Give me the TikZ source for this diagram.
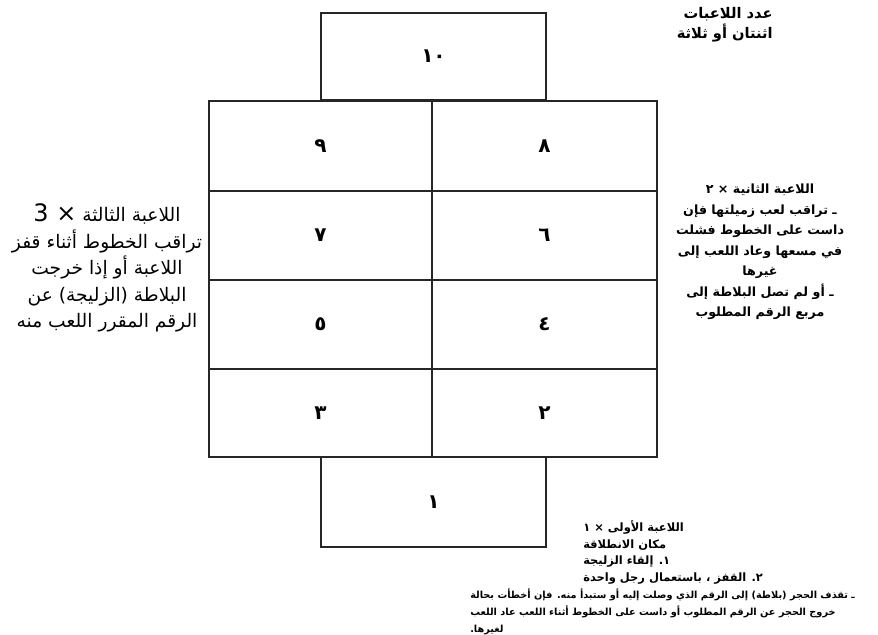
\documentclass[tikz,border=0pt]{standalone}
\usepackage{fontspec}
\TeXXeTstate=1
\newfontfamily\arab[Script=Arabic]{DejaVu Sans}
\newcommand{\RL}[1]{\beginR #1\endR}
\begin{document}
\begin{tikzpicture}[x=0.75pt,y=-0.75pt,
  cell/.style={draw=black!85, line width=1.1pt, inner sep=0pt,
    font=\arab\bfseries\fontsize{15}{17}\selectfont},
  midw/.style={minimum width=168.75pt},
  lw/.style={minimum width=167.25pt},
  txt/.style={inner sep=0pt, text=black}]
\useasboundingbox (0,0) rectangle (878,635);
% top box
\node[cell, midw, minimum height=65.25pt] (c10) at (433.5,56.5) {\RL{١٠}};
% left column
\node[cell, lw, minimum height=67.5pt] (c9) at (320.5,146) {٩};
\node[cell, lw, minimum height=66.75pt] (c7) at (320.5,235.5) {٧};
\node[cell, lw, minimum height=66.75pt] (c5) at (320.5,324.5) {٥};
\node[cell, lw, minimum height=66pt] (c3) at (320.5,413) {٣};
% right column
\node[cell, midw, minimum height=67.5pt] (c8) at (544.5,146) {٨};
\node[cell, midw, minimum height=66.75pt] (c6) at (544.5,235.5) {٦};
\node[cell, midw, minimum height=66.75pt] (c4) at (544.5,324.5) {٤};
\node[cell, midw, minimum height=66pt] (c2) at (544.5,413) {٢};
% bottom box
\node[cell, midw, minimum height=67.5pt] (c1) at (433.5,502) {١};
% texts
\node[txt, anchor=east, align=right,
  font=\arab\bfseries\fontsize{11}{15}\selectfont] (players) at (773,25)
  {\RL{عدد اللاعبات}\\\RL{اثنتان أو ثلاثة}};
\node[txt, align=center,
  font=\arab\fontsize{14}{19.9}\selectfont] (third) at (107,268)
  {\RL{اللاعبة الثالثة {\fontsize{18}{19.9}\selectfont × 3}}\\
   \RL{تراقب الخطوط أثناء قفز}\\
   \RL{اللاعبة أو إذا خرجت}\\
   \RL{البلاطة (الزليجة) عن}\\
   \RL{الرقم المقرر اللعب منه}};
\node[txt, align=center,
  font=\arab\bfseries\fontsize{9.5}{15.4}\selectfont] (second) at (760,252)
  {\RL{اللاعبة الثانية × ٢}\\
   \RL{ـ تراقب لعب زميلتها فإن}\\
   \RL{داست على الخطوط فشلت}\\
   \RL{في مسعها وعاد اللعب إلى}\\
   \RL{غيرها}\\
   \RL{ـ أو لم تصل البلاطة إلى}\\
   \RL{مربع الرقم المطلوب}};
\node[txt, anchor=north west, align=left,
  font=\arab\bfseries\fontsize{7.3}{12.7}\selectfont] (first) at (470,520)
  {\hspace*{84.75pt}{\fontsize{8.6}{12.7}\selectfont\RL{اللاعبة الأولى × ١}}\\
   \hspace*{84.75pt}{\fontsize{8.6}{12.7}\selectfont\RL{مكان الانطلاقة}}\\
   \hspace*{84.75pt}{\fontsize{8.6}{12.7}\selectfont\RL{١. إلقاء الزليجة}}\\
   \hspace*{84.75pt}{\fontsize{8.6}{12.7}\selectfont\RL{٢. القفز ، باستعمال رجل واحدة}}\\
   \RL{ـ تقذف الحجر (بلاطة) إلى الرقم الذي وصلت إليه أو ستبدأ منه. فإن أخطأت بحالة}\\
   \RL{خروج الحجر عن الرقم المطلوب أو داست على الخطوط أثناء اللعب عاد اللعب}\\
   \RL{لغيرها.}};
\end{tikzpicture}
\end{document}
